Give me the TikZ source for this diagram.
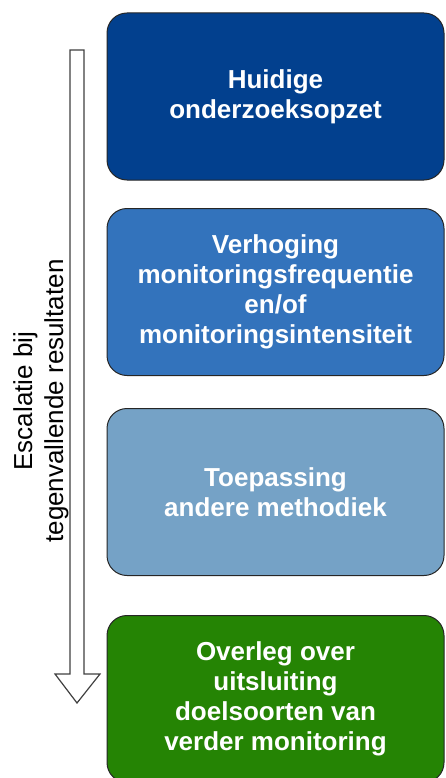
\documentclass[tikz,border=0pt]{standalone}
\usepackage{fontspec}
\setmainfont{Liberation Sans}
\definecolor{donkerblauw}{RGB}{2,64,142}
\definecolor{middenblauw}{RGB}{51,115,188}
\definecolor{lichtblauw}{RGB}{117,162,198}
\definecolor{groen}{RGB}{37,132,4}
\begin{document}
\begin{tikzpicture}[x=1pt,y=-1pt,
    stap/.style={draw=black!85,line width=1pt,rounded corners=20pt,
      minimum width=337pt,minimum height=167pt,align=center,
      text=white,font=\fontsize{26}{30}\selectfont\bfseries},
    pijl/.style={draw=black!75,line width=1.2pt,fill=white}]
      \useasboundingbox (0,0) rectangle (445,778);
      \clip (0,0) rectangle (445,778);
      % stappen
      \node[stap,fill=donkerblauw] (huidig) at (275.5,96.5) {Huidige\\onderzoeksopzet};
      \node[stap,fill=middenblauw] (verhoging) at (275.5,292) {Verhoging\\monitoringsfrequentie\\en/of\\monitoringsintensiteit};
      \node[stap,fill=lichtblauw] (toepassing) at (275.5,492) {Toepassing\\andere methodiek};
      \node[stap,fill=groen] (overleg) at (275.5,699) {Overleg over\\uitsluiting\\doelsoorten van\\verder monitoring};
      % escalatiepijl
      \draw[pijl] (70,50) -- (84,50) -- (84,674) -- (100,674) -- (77,703)
        -- (55,674) -- (70,674) -- cycle;
      \node[rotate=90,align=center,font=\fontsize{26}{31}\selectfont]
        (escalatie) at (41,401) {Escalatie bij\\tegenvallende resultaten};
    \end{tikzpicture}
\end{document}
